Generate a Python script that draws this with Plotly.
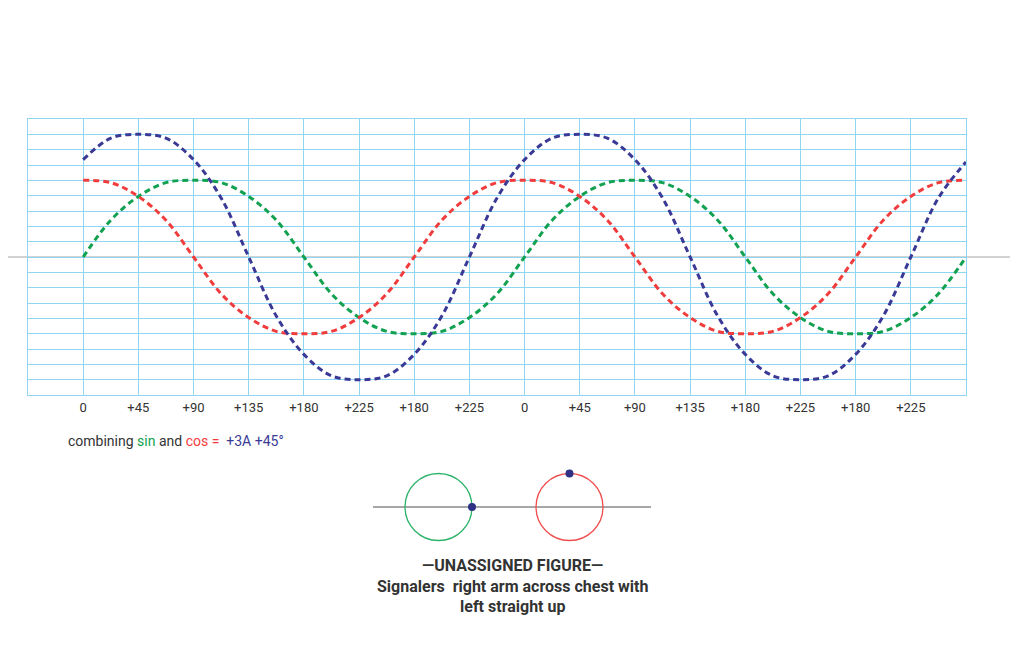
import plotly.graph_objects as go

# ---- data ----
x_units = [0, 0.5, 1, 1.5, 2, 2.5, 3, 3.5, 4, 4.5, 5, 5.5, 6, 6.5, 7, 7.5,
           8, 8.5, 9, 9.5, 10, 10.5, 11, 11.5, 12, 12.5, 13, 13.5, 14, 14.5, 15, 15.5, 16]

sin_vals = [0, 2.4, 3.95, 4.85, 5, 4.85, 3.95, 2.4, 0, -2.4, -3.95, -4.85, -5, -4.85, -3.95, -2.4,
            0, 2.4, 3.95, 4.85, 5, 4.85, 3.95, 2.4, 0, -2.4, -3.95, -4.85, -5, -4.85, -3.95, -2.4, 0]

cos_vals = [5, 4.85, 3.95, 2.4, 0, -2.4, -3.95, -4.85, -5, -4.85, -3.95, -2.4, 0, 2.4, 3.95, 4.85,
            5, 4.85, 3.95, 2.4, 0, -2.4, -3.95, -4.85, -5, -4.85, -3.95, -2.4, 0, 2.4, 3.95, 4.85, 5]

sum_vals = [6.35, 7.75, 8, 7.75, 6.35, 3.85, 0, -3.85, -6.35, -7.75, -8, -7.75, -6.35, -3.85, 0, 3.85,
            6.35, 7.75, 8, 7.75, 6.35, 3.85, 0, -3.85, -6.35, -7.75, -8, -7.75, -6.35, -3.85, 0, 3.85, 6.2]

tick_pos = [0, 1, 2, 3, 4, 5, 6, 7, 8, 9, 10, 11, 12, 13, 14, 15]
tick_labels = ["0", "+45", "+90", "+135", "+180", "+225", "+180", "+225",
               "0", "+45", "+90", "+135", "+180", "+225", "+180", "+225"]

# ---- style ----
OFF = 8  # page body margin
W, H = 1016, 655
GRID = "#8fd6f2"
GREEN = "#12a150"
RED = "#f03c3c"
BLUE = "#3a3a96"
DOT = "#2e3184"
TEXT = "#333333"
FONT = "Roboto, Arial, sans-serif"
DASH = "6px,4px"


def px(x):
    return (x - OFF) / W


def py(y):
    return 1 - (y - OFF) / H


fig = go.Figure()
fig.add_trace(go.Scatter(x=x_units, y=sin_vals, mode="lines", line=dict(color=GREEN, width=3, dash=DASH, shape="spline"), name="sin"))
fig.add_trace(go.Scatter(x=x_units, y=cos_vals, mode="lines", line=dict(color=RED, width=3, dash=DASH, shape="spline"), name="cos"))
fig.add_trace(go.Scatter(x=x_units, y=sum_vals, mode="lines", line=dict(color=BLUE, width=3, dash=DASH, shape="spline"), name="sum"))

fig.update_layout(
    width=W, height=H,
    margin=dict(l=0, r=0, t=0, b=0),
    paper_bgcolor="white",
    plot_bgcolor="rgba(0,0,0,0)",
    showlegend=False,
    font=dict(family=FONT, color=TEXT),
    xaxis=dict(
        domain=[px(28), px(966)], range=[-1, 16],
        tickvals=tick_pos, ticktext=tick_labels, ticks="",
        showgrid=True, gridcolor=GRID, gridwidth=1.3,
        showline=True, linecolor=GRID, linewidth=1.3, mirror=True,
        zeroline=False, tickfont=dict(size=13, color=TEXT, family=FONT),
        fixedrange=True,
    ),
    yaxis=dict(
        domain=[py(395), py(119)], range=[-9, 9],
        tick0=0, dtick=1, showticklabels=False, ticks="",
        showgrid=True, gridcolor=GRID, gridwidth=1.3,
        showline=True, linecolor=GRID, linewidth=1.3, mirror=True,
        zeroline=False, fixedrange=True,
    ),
)

shapes = []
# long grey centre line
shapes.append(dict(type="line", xref="paper", yref="y", x0=0, x1=px(1010), y0=0, y1=0,
                   line=dict(color="#c4c4c4", width=1.5), layer="below"))
# lower illustration: baseline
shapes.append(dict(type="line", xref="paper", yref="paper", x0=px(373), x1=px(651), y0=py(507), y1=py(507),
                   line=dict(color="#8a8a8a", width=1.5)))
# circles
cx1, cy1, r = 438.5, 507, 33.5
cx2, cy2 = 569.5, 507
shapes.append(dict(type="circle", xref="paper", yref="paper", x0=px(cx1 - r), x1=px(cx1 + r), y0=py(cy1 + r), y1=py(cy1 - r),
                   line=dict(color="#2db46a", width=1.3)))
shapes.append(dict(type="circle", xref="paper", yref="paper", x0=px(cx2 - r), x1=px(cx2 + r), y0=py(cy2 + r), y1=py(cy2 - r),
                   line=dict(color="#f04e4e", width=1.3)))
# dots
dr = 4
for (dx, dy) in [(cx1 + r, cy1), (cx2, cy2 - r)]:
    shapes.append(dict(type="circle", xref="paper", yref="paper", x0=px(dx - dr), x1=px(dx + dr), y0=py(dy + dr), y1=py(dy - dr),
                       fillcolor=DOT, line=dict(color=DOT, width=0)))
fig.update_layout(shapes=shapes)

ann = []
ann.append(dict(xref="paper", yref="paper", x=px(66), y=py(441), xanchor="left", yanchor="middle", showarrow=False,
                text=("combining <span style='color:%s'>sin</span> and <span style='color:%s'>cos =</span>&nbsp;&nbsp;"
                      "<span style='color:%s'>+3A +45°</span>") % (GREEN, RED, BLUE),
                font=dict(size=14, color=TEXT, family=FONT)))
ann.append(dict(xref="paper", yref="paper", x=px(512), y=py(565), xanchor="center", yanchor="middle", showarrow=False,
                text="<b>—UNASSIGNED FIGURE—</b>", font=dict(size=16, color=TEXT, family=FONT)))
ann.append(dict(xref="paper", yref="paper", x=px(512), y=py(586), xanchor="center", yanchor="middle", showarrow=False,
                text="<b>Signalers&nbsp;&nbsp;right arm across chest with</b>", font=dict(size=16, color=TEXT, family=FONT)))
ann.append(dict(xref="paper", yref="paper", x=px(512), y=py(606), xanchor="center", yanchor="middle", showarrow=False,
                text="<b>left straight up</b>", font=dict(size=16, color=TEXT, family=FONT)))
fig.update_layout(annotations=ann)

fig.write_html("out.html", config={"displayModeBar": False})
